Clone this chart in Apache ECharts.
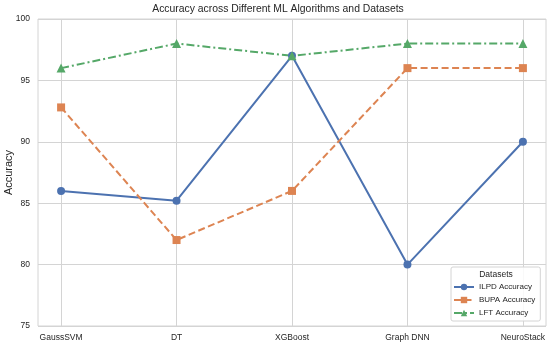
<!DOCTYPE html>
<html>
<head>
<meta charset="utf-8">
<script src="https://cdn.jsdelivr.net/npm/echarts@6/dist/echarts.min.js"></script>
<style>html,body{margin:0;padding:0;background:#fff}#c{width:550px;height:348px}</style>
</head>
<body>
<div id="c"></div>
<script>
const categories = ['GaussSVM', 'DT', 'XGBoost', 'Graph DNN', 'NeuroStack'];
const ilpd = [86, 85.2, 97, 80, 90];
const bupa = [92.8, 82, 86, 96, 96];
const lft = [96, 98, 97, 98, 98];
const yTicks = [75, 80, 85, 90, 95, 100];

const FONT = 'Liberation Sans, Arial, sans-serif';
const chart = echarts.init(document.getElementById('c'), null, {renderer: 'canvas'});
const toPts = arr => arr.map((v, i) => [i, v]);
const idx = categories.map((_, i) => i);

chart.setOption({
  animation: false,
  backgroundColor: '#fff',
  textStyle: {fontFamily: FONT},
  grid: {left: 38, right: 4, top: 19, bottom: 22, containLabel: false, outerBoundsMode: 'none',
         show: true, borderColor: '#d4d4d4', borderWidth: 1},
  xAxis: {
    type: 'value', min: -0.2, max: 4.2,
    axisLine: {show: false},
    axisTick: {show: false, customValues: idx},
    axisLabel: {customValues: idx, formatter: v => categories[Math.round(v)], color: '#262626', fontSize: 8.5, fontFamily: FONT, margin: 7},
    splitLine: {show: true, lineStyle: {color: '#d4d4d4', width: 1}}
  },
  yAxis: {
    type: 'value', min: 75, max: 100, interval: 5,
    name: 'Accuracy', nameLocation: 'middle', nameGap: 24, nameMoveOverlap: false,
    nameTextStyle: {color: '#262626', fontSize: 11, fontFamily: FONT},
    axisLine: {show: false}, axisTick: {show: false},
    axisLabel: {color: '#262626', fontSize: 8.5, fontFamily: FONT, margin: 8},
    splitLine: {show: true, lineStyle: {color: '#d4d4d4', width: 1}}
  },
  legend: {
    orient: 'vertical', left: 451, top: 267,
    padding: [16, 5, 4, 2],
    backgroundColor: 'rgba(255,255,255,0.85)', borderColor: '#d4d4d4', borderWidth: 1, borderRadius: 2,
    itemWidth: 20, itemHeight: 8, itemGap: 5,
    textStyle: {color: '#262626', fontSize: 8, fontFamily: FONT},
    data: ['ILPD Accuracy', 'BUPA Accuracy', 'LFT Accuracy']
  },
  graphic: [
    {type: 'text', x: 278, y: 4, style: {text: 'Accuracy across Different ML Algorithms and Datasets', fill: '#262626', font: '10.4px ' + FONT, textAlign: 'center'}},
    {type: 'text', x: 496, y: 270, z: 100, style: {text: 'Datasets', fill: '#262626', font: '8.5px ' + FONT, textAlign: 'center'}}
  ],
  series: [
    {name: 'ILPD Accuracy', type: 'line', data: toPts(ilpd), color: '#4C72B0', symbol: 'circle', symbolSize: 8,
     lineStyle: {width: 2}, itemStyle: {color: '#4C72B0'}},
    {name: 'BUPA Accuracy', type: 'line', data: toPts(bupa), color: '#DD8452', symbol: 'rect', symbolSize: 8,
     lineStyle: {width: 2, type: [7, 3.5]}, itemStyle: {color: '#DD8452'}},
    {name: 'LFT Accuracy', type: 'line', data: toPts(lft), color: '#55A868', symbol: 'triangle', symbolSize: 9,
     lineStyle: {width: 2, type: [8, 3, 2, 3]}, itemStyle: {color: '#55A868'}}
  ]
});
</script>
</body>
</html>
